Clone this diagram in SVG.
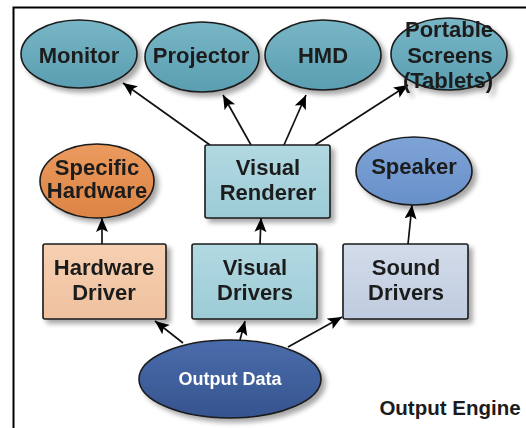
<svg xmlns="http://www.w3.org/2000/svg" width="526" height="428" viewBox="0 0 526 428">
<style>
.t{font-family:"Liberation Sans",Arial,sans-serif;font-weight:bold;font-size:22px;fill:#1c1c1c;text-anchor:middle}
.w{fill:#ffffff;font-size:18px}
.n{stroke:#1a1a1a;stroke-width:1.6}
.c{stroke:#111;stroke-width:1.7;fill:none;marker-end:url(#ah)}
</style>
<defs>
<marker id="ah" markerUnits="userSpaceOnUse" markerWidth="16" markerHeight="14" refX="14" refY="6" orient="auto">
<path d="M0,0 L14,6 L0,12 L3,6 z" fill="#000"/>
</marker>
<filter id="sh" x="-20%" y="-20%" width="150%" height="150%">
<feGaussianBlur in="SourceAlpha" stdDeviation="2.5"/>
<feOffset dx="4" dy="4" result="b"/>
<feComponentTransfer><feFuncA type="linear" slope="0.35"/></feComponentTransfer>
<feMerge><feMergeNode/><feMergeNode in="SourceGraphic"/></feMerge>
</filter>
<linearGradient id="gt" x1="0" y1="0" x2="0" y2="1"><stop offset="0" stop-color="#78b6c6"/><stop offset="1" stop-color="#5a9eb1"/></linearGradient>
<linearGradient id="go" x1="0" y1="0" x2="0" y2="1"><stop offset="0" stop-color="#eb9a5e"/><stop offset="1" stop-color="#dc8445"/></linearGradient>
<linearGradient id="gs" x1="0" y1="0" x2="0" y2="1"><stop offset="0" stop-color="#7ea3d6"/><stop offset="1" stop-color="#6890c9"/></linearGradient>
<linearGradient id="gd" x1="0" y1="0" x2="0" y2="1"><stop offset="0" stop-color="#4a6cab"/><stop offset="1" stop-color="#36548f"/></linearGradient>
<linearGradient id="rv" x1="0" y1="0" x2="0" y2="1"><stop offset="0" stop-color="#b2d9e2"/><stop offset="1" stop-color="#9ccbd6"/></linearGradient>
<linearGradient id="rh" x1="0" y1="0" x2="0" y2="1"><stop offset="0" stop-color="#f6d0b2"/><stop offset="1" stop-color="#efc19f"/></linearGradient>
<linearGradient id="rs" x1="0" y1="0" x2="0" y2="1"><stop offset="0" stop-color="#d2dcea"/><stop offset="1" stop-color="#bfcbdf"/></linearGradient>
</defs>
<rect width="526" height="428" fill="#ffffff"/>
<rect x="13.5" y="7.5" width="530" height="440" fill="none" stroke="#000" stroke-width="2"/>

<g id="connectors">
<line class="c" x1="210" y1="145" x2="123" y2="83"/>
<line class="c" x1="251" y1="145" x2="223" y2="95"/>
<line class="c" x1="284" y1="145" x2="306" y2="95"/>
<line class="c" x1="315" y1="145" x2="408" y2="85"/>
<line class="c" x1="102" y1="244" x2="102" y2="218"/>
<line class="c" x1="260" y1="244" x2="261" y2="218"/>
<line class="c" x1="408" y1="244" x2="412" y2="205"/>
<line class="c" x1="183" y1="343" x2="155" y2="321"/>
<line class="c" x1="240" y1="340" x2="245" y2="321"/>
<line class="c" x1="288" y1="347" x2="342" y2="317"/>
</g>

<g id="monitor" filter="url(#sh)">
<ellipse class="n" cx="79" cy="54" rx="58" ry="34" fill="url(#gt)"/>
<text class="t" x="79" y="63">Monitor</text>
</g>
<g id="projector" filter="url(#sh)">
<ellipse class="n" cx="202" cy="57" rx="57" ry="35" fill="url(#gt)"/>
<text class="t" x="201" y="63">Projector</text>
</g>
<g id="hmd" filter="url(#sh)">
<ellipse class="n" cx="323" cy="55" rx="58" ry="35" fill="url(#gt)"/>
<text class="t" x="323" y="63">HMD</text>
</g>
<g id="portable" filter="url(#sh)">
<ellipse class="n" cx="449" cy="54" rx="58" ry="36" fill="url(#gt)"/>
<text class="t" x="449" y="37">Portable</text>
<text class="t" x="450" y="63">Screens</text>
<text class="t" x="448" y="88">(Tablets)</text>
</g>
<g id="renderer" filter="url(#sh)">
<rect class="n" x="205" y="145" width="125" height="73" rx="2" fill="url(#rv)"/>
<text class="t" x="268" y="175">Visual</text>
<text class="t" x="268" y="200">Renderer</text>
</g>
<g id="specific" filter="url(#sh)">
<ellipse class="n" cx="97" cy="181" rx="57" ry="37" fill="url(#go)"/>
<text class="t" x="97" y="175">Specific</text>
<text class="t" x="97" y="198">Hardware</text>
</g>
<g id="speaker" filter="url(#sh)">
<ellipse class="n" cx="414" cy="171" rx="58" ry="34" fill="url(#gs)"/>
<text class="t" x="414" y="174">Speaker</text>
</g>
<g id="hwdriver" filter="url(#sh)">
<rect class="n" x="43" y="244" width="123" height="75" rx="2" fill="url(#rh)"/>
<text class="t" x="104" y="275">Hardware</text>
<text class="t" x="104" y="300">Driver</text>
</g>
<g id="visdrivers" filter="url(#sh)">
<rect class="n" x="192" y="244" width="125" height="75" rx="2" fill="url(#rv)"/>
<text class="t" x="255" y="275">Visual</text>
<text class="t" x="255" y="300">Drivers</text>
</g>
<g id="sounddrivers" filter="url(#sh)">
<rect class="n" x="343" y="244" width="125" height="75" rx="2" fill="url(#rs)"/>
<text class="t" x="406" y="275">Sound</text>
<text class="t" x="406" y="300">Drivers</text>
</g>
<g id="outputdata" filter="url(#sh)">
<ellipse class="n" cx="230" cy="379" rx="91" ry="39" fill="url(#gd)"/>
<text class="t w" x="230" y="385">Output Data</text>
</g>
<text class="t" x="450" y="415" style="font-size:20.5px">Output Engine</text>
</svg>
